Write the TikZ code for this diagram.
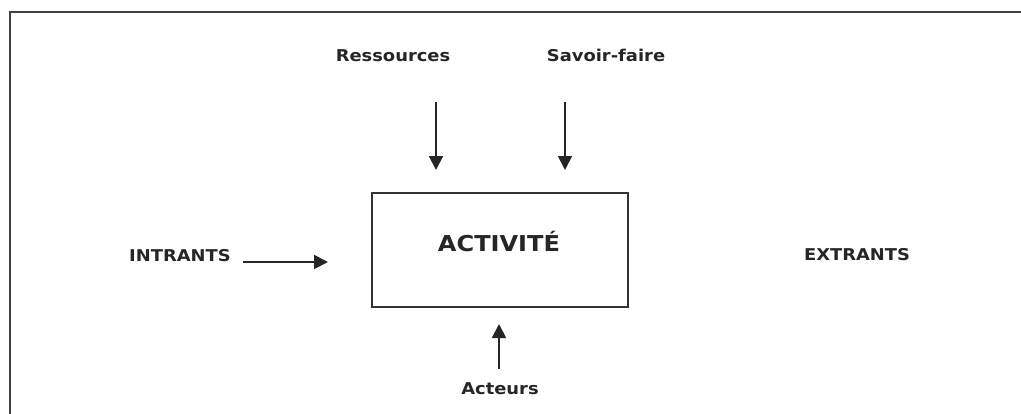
\documentclass[tikz,border=0pt]{standalone}
\usepackage{fontspec}
\setmainfont{DejaVu Sans}[FakeStretch=1.1]
\usetikzlibrary{arrows.meta}
\begin{document}
\begin{tikzpicture}[x=0.75pt,y=-0.75pt,
  label/.style={font=\fontsize{12.2}{14}\selectfont\bfseries, text=black!85, inner sep=0pt},
  flow/.style={draw=black!85, line width=1.4pt, -{Triangle[length=10.5pt,width=10.5pt]}},
  frame/.style={draw=black!75, line width=1.7pt}]
  \useasboundingbox (0,0) rectangle (1021,414);
  % page frame (top and left edges)
  \draw[frame] (1021,12) -- (10,12) -- (10,414);
  % central activity box
  \node[draw=black!80, line width=1.1pt, minimum width=192pt, minimum height=85.5pt, inner sep=0pt] (act) at (500,250) {};
  \node[label, font=\fontsize{16.4}{18}\selectfont\bfseries] (actlbl) at (499,242) {ACTIVITÉ};
  % labels
  \node[label] (res) at (393,55.5) {Ressources};
  \node[label] (sav) at (606,55.5) {Savoir-faire};
  \node[label] (int) at (180,256) {INTRANTS};
  \node[label] (ext) at (857,255) {EXTRANTS};
  \node[label] (actr) at (500,389) {Acteurs};
  % arrow anchors
  \coordinate (resA) at (436,102);
  \coordinate (resB) at (436,170);
  \coordinate (savA) at (565,102);
  \coordinate (savB) at (565,170);
  \coordinate (intA) at (243,262);
  \coordinate (intB) at (328,262);
  \coordinate (actA) at (499,369);
  \coordinate (actB) at (499,324);
  \draw[flow] (resA) -- (resB);
  \draw[flow] (savA) -- (savB);
  \draw[flow] (intA) -- (intB);
  \draw[flow] (actA) -- (actB);
\end{tikzpicture}
\end{document}
